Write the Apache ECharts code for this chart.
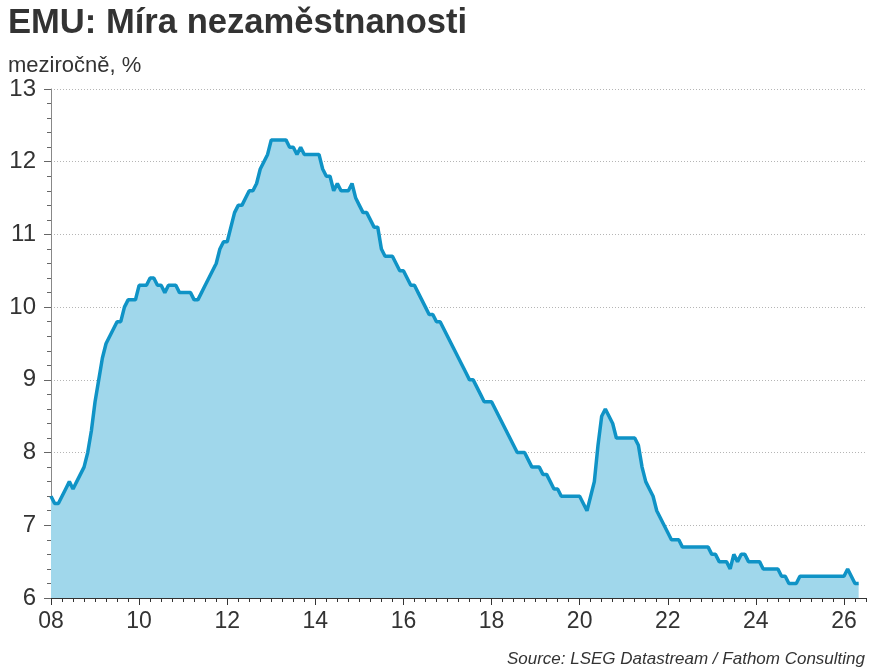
<!DOCTYPE html>
<html>
<head>
<meta charset="utf-8">
<script src="https://cdn.jsdelivr.net/npm/echarts@6/dist/echarts.min.js"></script>
<style>
html,body{margin:0;padding:0;background:#fff;}
#chart{width:893px;height:671px;}
</style>
</head>
<body>
<div id="chart"></div>
<script>
// Monthly unemployment rate, euro area, %, starting January 2008
const startYear = 2008;
const y2008 = [7.4, 7.3, 7.3, 7.4, 7.5, 7.6, 7.5, 7.6, 7.7, 7.8, 8.0, 8.3];
const y2009 = [8.7, 9.0, 9.3, 9.5, 9.6, 9.7, 9.8, 9.8, 10.0, 10.1, 10.1, 10.1];
const y2010 = [10.3, 10.3, 10.3, 10.4, 10.4, 10.3, 10.3, 10.2, 10.3, 10.3, 10.3, 10.2];
const y2011 = [10.2, 10.2, 10.2, 10.1, 10.1, 10.2, 10.3, 10.4, 10.5, 10.6, 10.8, 10.9];
const y2012 = [10.9, 11.1, 11.3, 11.4, 11.4, 11.5, 11.6, 11.6, 11.7, 11.9, 12.0, 12.1];
const y2013 = [12.3, 12.3, 12.3, 12.3, 12.3, 12.2, 12.2, 12.1, 12.2, 12.1, 12.1, 12.1];
const y2014 = [12.1, 12.1, 11.9, 11.8, 11.8, 11.6, 11.7, 11.6, 11.6, 11.6, 11.7, 11.5];
const y2015 = [11.4, 11.3, 11.3, 11.2, 11.1, 11.1, 10.8, 10.7, 10.7, 10.7, 10.6, 10.5];
const y2016 = [10.5, 10.4, 10.3, 10.3, 10.2, 10.1, 10.0, 9.9, 9.9, 9.8, 9.8, 9.7];
const y2017 = [9.6, 9.5, 9.4, 9.3, 9.2, 9.1, 9.0, 9.0, 8.9, 8.8, 8.7, 8.7];
const y2018 = [8.7, 8.6, 8.5, 8.4, 8.3, 8.2, 8.1, 8.0, 8.0, 8.0, 7.9, 7.8];
const y2019 = [7.8, 7.8, 7.7, 7.7, 7.6, 7.5, 7.5, 7.4, 7.4, 7.4, 7.4, 7.4];
const y2020 = [7.4, 7.3, 7.2, 7.4, 7.6, 8.1, 8.5, 8.6, 8.5, 8.4, 8.2, 8.2];
const y2021 = [8.2, 8.2, 8.2, 8.2, 8.1, 7.8, 7.6, 7.5, 7.4, 7.2, 7.1, 7.0];
const y2022 = [6.9, 6.8, 6.8, 6.8, 6.7, 6.7, 6.7, 6.7, 6.7, 6.7, 6.7, 6.7];
const y2023 = [6.6, 6.6, 6.5, 6.5, 6.5, 6.4, 6.6, 6.5, 6.6, 6.6, 6.5, 6.5];
const y2024 = [6.5, 6.5, 6.4, 6.4, 6.4, 6.4, 6.4, 6.3, 6.3, 6.2, 6.2, 6.2];
const y2025 = [6.3, 6.3, 6.3, 6.3, 6.3, 6.3, 6.3, 6.3, 6.3, 6.3, 6.3, 6.3];
const y2026 = [6.3, 6.4, 6.3, 6.2, 6.2];

const rates = [].concat(y2008, y2009, y2010, y2011, y2012, y2013, y2014, y2015,
  y2016, y2017, y2018, y2019, y2020, y2021, y2022, y2023, y2024, y2025, y2026);

const xTickYears = [2008, 2010, 2012, 2014, 2016, 2018, 2020, 2022, 2024, 2026];
const xTickLabels = ['08', '10', '12', '14', '16', '18', '20', '22', '24', '26'];
const yTicks = [6, 7, 8, 9, 10, 11, 12, 13];

const titleText = 'EMU: Míra nezaměstnanosti';
const subtitleText = 'meziročně, %';
const sourceText = 'Source: LSEG Datastream / Fathom Consulting';

const seriesData = rates.map((v, i) => [startYear + i / 12, v]);

const font = 'Liberation Sans, Arial, sans-serif';
const chart = echarts.init(document.getElementById('chart'), null, {renderer: 'canvas'});

chart.setOption({
  animation: false,
  backgroundColor: '#ffffff',
  title: [
    {text: titleText, left: 3, top: 1,
     textStyle: {fontFamily: font, fontSize: 34.6, fontWeight: 'bold', color: '#333333'}},
    {text: subtitleText, left: 3, top: 50,
     textStyle: {fontFamily: font, fontSize: 22, fontWeight: 'normal', color: '#333333'}},
    {text: sourceText, right: 23, bottom: -2,
     textStyle: {fontFamily: font, fontSize: 17, fontStyle: 'italic', fontWeight: 'normal', color: '#333333'}}
  ],
  grid: {left: 51, right: 27, top: 89, bottom: 73, containLabel: false},
  xAxis: [
    {
      type: 'value', min: 2008, max: 2026.5,
      axisLine: {show: true, lineStyle: {color: '#333333', width: 1}},
      axisTick: {show: true, customValues: xTickYears, length: 7, lineStyle: {color: '#333333'}},
      axisLabel: {
        show: true, customValues: xTickYears, margin: 12,
        fontFamily: font, fontSize: 23, color: '#333333',
        formatter: v => xTickLabels[xTickYears.indexOf(Math.round(v))] || ''
      },
      splitLine: {show: false}
    },
    {
      type: 'value', min: 2008, max: 2026.5, interval: 0.25, position: 'bottom',
      axisLine: {show: false},
      axisTick: {show: true, length: 4, lineStyle: {color: '#333333'}},
      axisLabel: {show: false},
      splitLine: {show: false}
    }
  ],
  yAxis: {
    type: 'value', min: 6, max: 13, interval: 1,
    axisLine: {show: true, lineStyle: {color: '#888888', width: 1}},
    axisTick: {show: true, length: 7, lineStyle: {color: '#666666'}},
    minorTick: {show: true, splitNumber: 5, length: 4, lineStyle: {color: '#666666'}},
    axisLabel: {
      margin: 15, fontFamily: font, fontSize: 24, color: '#333333',
      formatter: v => (yTicks.indexOf(v) >= 0 ? String(v) : '')
    },
    splitLine: {show: true, lineStyle: {color: '#b5b5b5', type: [1, 2], width: 1}},
    minorSplitLine: {show: false}
  },
  series: [{
    type: 'line',
    xAxisIndex: 0,
    data: seriesData,
    showSymbol: false,
    smooth: false,
    lineStyle: {color: '#0f93c6', width: 3.5},
    areaStyle: {color: '#a0d7eb', opacity: 1},
    z: 3
  }]
});
</script>
</body>
</html>
